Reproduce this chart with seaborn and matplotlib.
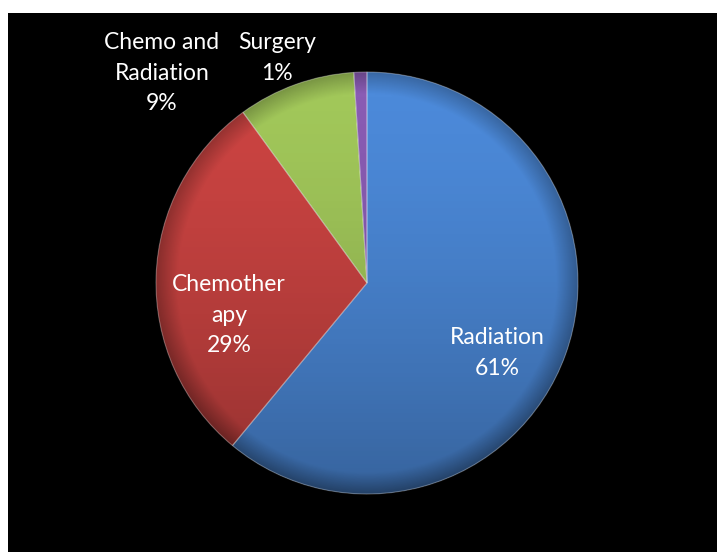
import numpy as np
import matplotlib
matplotlib.use('Agg')
import matplotlib.pyplot as plt
import matplotlib.patches as patches
import seaborn as sns

# chart data
categories = ['Radiation', 'Chemotherapy', 'Chemo and Radiation', 'Surgery']
label_text = ['Radiation', 'Chemother\napy', 'Chemo and\nRadiation', 'Surgery']
shares = [61, 29, 9, 1]
colors = ['#4c8ada', '#cc4442', '#a2c85a', '#8a5cb4']

sns.set_theme(style='white')
plt.rcParams['font.family'] = ['Lato', 'DejaVu Sans']

W, H = 717, 552
fig = plt.figure(figsize=(W / 100, H / 100), dpi=100, facecolor='white')
# black plot area, white strip at left and top
ax = fig.add_axes([8 / W, 0, (W - 8) / W, (H - 13) / H])
ax.set_facecolor('black')
ax.set_xlim(8, W)
ax.set_ylim(0, H - 13)

center = (367, H - 283)
radius = 211

wedges, _ = ax.pie(shares, colors=colors, startangle=90, counterclock=False,
                   center=center, radius=radius, frame=True,
                   wedgeprops=dict(edgecolor='none', linewidth=0))

# soft shading: lighter top, darker bottom, clipped to the disc
yy, xx = np.mgrid[0:1:300j, 0:1:300j]
rr = np.hypot(xx - 0.5, yy - 0.5) / 0.5
shade = np.zeros((300, 300, 4))
shade[..., 3] = (np.clip(0.28 * yy ** 1.5, 0, 1)
                 + np.clip((rr - 0.9) * 2.5, 0, 0.25))
img = ax.imshow(shade, extent=(center[0] - radius, center[0] + radius,
                               center[1] - radius, center[1] + radius),
                origin='upper', zorder=3, interpolation='bilinear')
disc = patches.Circle(center, radius, transform=ax.transData)
img.set_clip_path(disc)

# light seams between slices
for w in wedges:
    ax.add_patch(patches.Wedge(w.center, w.r, w.theta1, w.theta2, fill=False,
                               edgecolor=(1, 1, 1, 0.3), linewidth=0.8, zorder=4))

# label offsets relative to the pie center (in pixels)
label_pos = [(130, -70), (-138, -32), (-205, 210), (-90, 225)]
for txt, pct, (dx, dy) in zip(label_text, shares, label_pos):
    ax.text(center[0] + dx, center[1] + dy, f'{txt}\n{pct}%', color='white',
            fontsize=16.5, ha='center', va='center', linespacing=1.55, zorder=5)

ax.set_xticks([])
ax.set_yticks([])
for s in ax.spines.values():
    s.set_visible(False)
ax.set_xlim(8, W)
ax.set_ylim(0, H - 13)
ax.set_aspect('auto')

fig.savefig('out.png', dpi=100, facecolor='white')
